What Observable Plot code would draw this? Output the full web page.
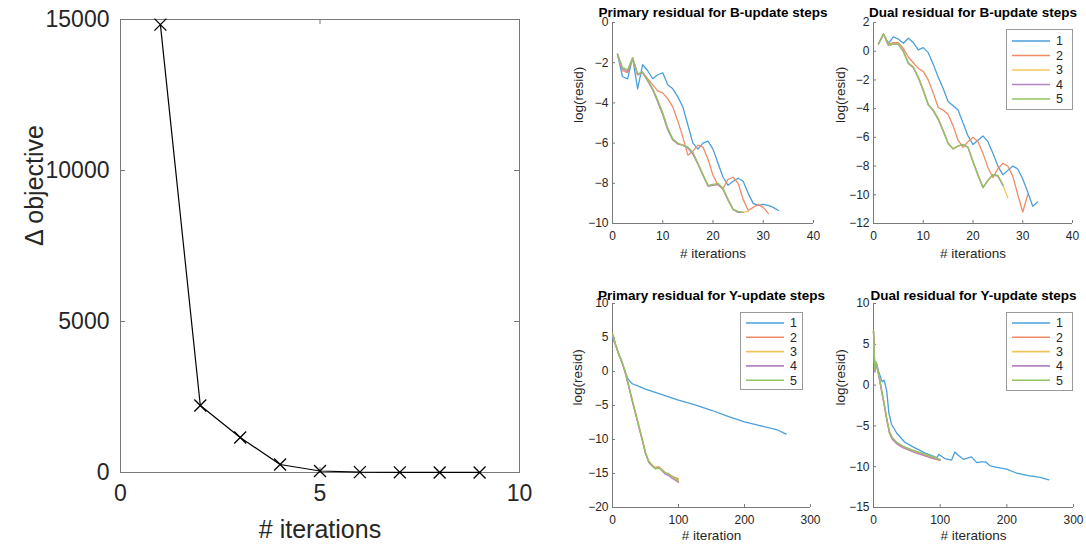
<!DOCTYPE html>
<html><head><meta charset="utf-8">
<script src="https://cdn.jsdelivr.net/npm/d3@7"></script>
<script src="https://cdn.jsdelivr.net/npm/@observablehq/plot@0.6"></script>
<style>
body{margin:0;background:#fff;}
#root{position:relative;width:1086px;height:546px;overflow:hidden;font-family:"Liberation Sans",Arial,sans-serif;}
#root > svg, #root > div{position:absolute;}
</style></head><body><div id="root"></div>
<script>
// ---------- Data ----------
// Left: change in objective per outer iteration
const objIter = [1, 2, 3, 4, 5, 6, 7, 8, 9];
const objDelta = [14830, 2220, 1160, 265, 50, 12, 5, 2, 1];
const objXTicks = [0, 5, 10];
const objYTicks = [0, 5000, 10000, 15000];

const seriesNames = ["1", "2", "3", "4", "5"];
const seriesColors = ["#4a9fdc", "#f08c65", "#f2c75a", "#b484c4", "#92c462"];

// Primary residual for B-update steps (iteration = index + 1)
const pB1 = [-1.6,-2.7,-2.8,-1.75,-3.3,-2.1,-2.4,-2.8,-2.6,-2.5,-3.1,-3.3,-3.7,-4.2,-5.1,-6.0,-6.3,-6.0,-5.9,-6.3,-7.0,-7.7,-8.1,-7.9,-7.75,-7.9,-8.5,-9.0,-9.1,-9.05,-9.1,-9.2,-9.35];
const pB2 = [-1.6,-2.4,-2.5,-1.8,-2.6,-2.5,-2.8,-3.1,-3.4,-3.5,-3.8,-4.2,-4.9,-5.7,-6.6,-6.4,-6.1,-6.2,-6.8,-7.6,-8.1,-8.25,-7.8,-7.7,-8.0,-8.8,-9.35,-9.2,-9.05,-9.2,-9.5];
const pB3 = [-1.6,-2.3,-2.4,-1.75,-2.6,-2.5,-2.9,-3.3,-3.9,-4.5,-5.3,-5.8,-6.05,-6.1,-6.2,-6.5,-7.0,-7.6,-8.1,-8.1,-8.05,-8.3,-8.8,-9.3,-9.45,-9.45,-9.4];
const pB4 = [-1.6,-2.3,-2.45,-1.8,-2.6,-2.5,-2.9,-3.35,-3.95,-4.6,-5.35,-5.85,-6.05,-6.1,-6.25,-6.55,-7.05,-7.6,-8.15,-8.1,-8.05,-8.3,-8.85,-9.3,-9.45,-9.45];
const pB5 = [-1.55,-2.25,-2.35,-1.75,-2.55,-2.45,-2.85,-3.3,-3.85,-4.5,-5.25,-5.8,-6.0,-6.1,-6.2,-6.45,-7.0,-7.55,-8.1,-8.05,-8.0,-8.25,-8.8,-9.3,-9.4,-9.45];

// Dual residual for B-update steps (iteration = index + 1)
const dB1 = [0.5,1.2,0.55,1.0,0.85,0.55,0.9,0.6,0.1,0.25,-0.1,-0.9,-1.8,-2.6,-3.5,-3.8,-4.1,-5.0,-5.9,-6.5,-6.2,-5.9,-6.3,-7.1,-8.0,-8.6,-8.3,-8.0,-8.2,-8.9,-9.8,-10.8,-10.5];
const dB2 = [0.5,1.2,0.5,0.6,0.6,0.2,-0.4,-0.8,-1.2,-1.4,-2.0,-2.9,-3.9,-4.1,-4.4,-5.2,-6.2,-6.7,-6.3,-6.0,-6.3,-7.1,-8.1,-8.8,-8.2,-7.8,-8.0,-8.7,-10.0,-11.2,-10.0];
const dB3 = [0.5,1.2,0.4,0.5,0.5,0.0,-0.8,-1.1,-1.8,-2.7,-3.7,-4.1,-4.7,-5.5,-6.4,-6.8,-6.6,-6.5,-6.7,-7.7,-8.6,-9.5,-9.0,-8.6,-8.7,-9.3,-10.2];
const dB4 = [0.5,1.2,0.4,0.5,0.5,0.0,-0.85,-1.15,-1.85,-2.75,-3.7,-4.15,-4.75,-5.55,-6.4,-6.8,-6.6,-6.5,-6.7,-7.7,-8.6,-9.5,-9.0,-8.6,-8.7,-9.35];
const dB5 = [0.5,1.2,0.45,0.5,0.5,-0.05,-0.8,-1.1,-1.8,-2.7,-3.75,-4.1,-4.7,-5.5,-6.45,-6.8,-6.6,-6.5,-6.7,-7.7,-8.65,-9.5,-9.0,-8.6,-8.65,-9.3];

// Primary residual for Y-update steps
const pY1x = [0,5,10,15,20,23,27,30,40,50,75,100,125,150,175,200,225,250,263];
const pY1 = [5.0,3.8,2.4,1.1,-0.2,-1.0,-1.5,-1.8,-2.2,-2.6,-3.4,-4.2,-4.9,-5.7,-6.6,-7.4,-8.0,-8.6,-9.2];
const pYx = [0,5,10,15,20,25,30,35,40,45,50,55,60,65,70,75,80,85,90,95,100];
const pY2 = [5.5,3.8,2.4,1.2,-0.4,-2.3,-4.3,-6.2,-8.1,-10.0,-12.0,-13.3,-13.8,-14.1,-14.0,-14.4,-14.9,-15.1,-15.4,-15.6,-15.8];
const pY3 = [5.5,3.8,2.4,1.2,-0.4,-2.3,-4.2,-6.1,-8.0,-10.0,-11.9,-13.2,-13.7,-14.2,-14.0,-14.5,-15.0,-15.2,-15.5,-15.9,-16.2];
const pY4 = [5.5,3.8,2.4,1.2,-0.4,-2.4,-4.4,-6.3,-8.2,-10.1,-12.1,-13.4,-13.9,-14.3,-14.1,-14.6,-15.1,-15.3,-15.7,-16.0,-16.3];
const pY5 = [5.6,3.9,2.5,1.3,-0.3,-2.2,-4.2,-6.1,-8.0,-9.9,-11.9,-13.2,-13.8,-14.3,-14.2,-14.5,-14.9,-15.0,-15.4,-15.8,-16.0];

// Dual residual for Y-update steps
const dY1x = [0,2,4,8,13,16,20,23,27,35,47,60,77,95,98,107,117,122,127,135,147,155,162,168,175,187,200,215,232,250,263];
const dY1 = [6.5,2.2,2.8,1.6,0.4,0.6,-0.8,-3.4,-4.8,-5.9,-7.0,-7.6,-8.3,-8.9,-8.5,-9.0,-9.2,-8.2,-8.6,-9.1,-8.8,-9.5,-9.4,-9.4,-9.9,-10.1,-10.3,-10.8,-11.1,-11.3,-11.6];
const dYx = [0,2,4,8,12,16,20,24,28,35,45,60,75,90,100];
const dY2 = [6.7,1.7,2.7,1.2,-0.6,-2.3,-4.2,-5.8,-6.5,-7.1,-7.6,-8.1,-8.5,-8.9,-9.2];
const dY3 = [6.7,1.7,2.7,1.2,-0.6,-2.4,-4.3,-5.9,-6.6,-7.2,-7.7,-8.2,-8.6,-9.0,-9.25];
const dY4 = [6.6,1.6,2.6,1.1,-0.7,-2.4,-4.3,-5.9,-6.6,-7.2,-7.7,-8.2,-8.6,-9.0,-9.2];
const dY5 = [6.7,1.8,2.8,1.3,-0.5,-2.2,-4.1,-5.7,-6.4,-7.0,-7.5,-8.0,-8.4,-8.8,-9.1];

const ticksB_x = [0, 10, 20, 30, 40];
const ticksPB_y = [-10, -8, -6, -4, -2, 0];
const ticksDB_y = [-12, -10, -8, -6, -4, -2, 0, 2];
const ticksY_x = [0, 100, 200, 300];
const ticksPY_y = [-20, -15, -10, -5, 0, 5, 10];
const ticksDY_y = [-15, -10, -5, 0, 5, 10];

// ---------- Helpers ----------
const FONT = '"Liberation Sans", Arial, sans-serif';
const AX = "#7a7a7a";
const TXT = "#262626";
const root = document.getElementById("root");
const fmt = d => d < 0 ? "\u2212" + Math.abs(d) : String(d);

const byIndex = (vals, s) => vals.map((v, i) => ({x: i + 1, y: v, s}));
const byXY = (xs, vals, s) => vals.map((v, i) => ({x: xs[i], y: v, s}));

function place(node, left, top) {
  node.style.left = left + "px";
  node.style.top = top + "px";
  root.appendChild(node);
}

function small(g) {
  const iw = g.width - g.ml - g.mr, ih = g.height - g.mt - g.mb, t = 3;
  const p = Plot.plot({
    width: g.width, height: g.height,
    marginLeft: g.ml, marginRight: g.mr, marginTop: g.mt, marginBottom: g.mb,
    style: {fontFamily: FONT, fontSize: "12px", color: TXT, background: "transparent", overflow: "visible"},
    x: {domain: g.xDomain, ticks: g.xTicks, tickSize: 0, tickPadding: 8, label: null, tickFormat: fmt},
    y: {domain: g.yDomain, ticks: g.yTicks, tickSize: 0, tickPadding: 4, label: null, tickFormat: fmt},
    color: {domain: seriesNames, range: seriesColors},
    marks: [
      Plot.ruleX([g.xDomain[0]], {stroke: AX}),
      Plot.ruleY([g.yDomain[0]], {stroke: AX}),
      Plot.tickX(g.xTicks, {x: d => d, stroke: AX, insetTop: ih - t}),
      Plot.tickY(g.yTicks, {y: d => d, stroke: AX, insetRight: iw - t}),
      Plot.line(g.rows, {x: "x", y: "y", z: "s", stroke: "s", strokeWidth: 1.3}),
      Plot.text([g.title], {text: d => d, frameAnchor: "top", lineAnchor: "middle", dy: g.titleDy, fontWeight: "bold", fontSize: 13.5, fill: "#000"}),
      Plot.text([g.xLabel], {text: d => d, frameAnchor: "bottom", lineAnchor: "middle", dy: g.xLabelDy, fontSize: 13.5, fill: TXT}),
      Plot.text(["log(resid)"], {text: d => d, frameAnchor: "left", lineAnchor: "middle", rotate: -90, dx: g.yLabelDx, fontSize: 13.5, fill: TXT})
    ]
  });
  place(p, g.left, g.top);
}

function legend(left, top, w, h, rowY0, rowGap) {
  const svg = d3.create("svg").attr("width", w).attr("height", h)
    .style("font-family", FONT).style("font-size", "12.5px");
  svg.append("rect").attr("x", 0.5).attr("y", 0.5).attr("width", w - 1).attr("height", h - 1)
    .attr("fill", "#fff").attr("stroke", "#9a9a9a");
  seriesNames.forEach((n, i) => {
    const y = rowY0 + i * rowGap;
    svg.append("line").attr("x1", 6).attr("x2", 44).attr("y1", y).attr("y2", y)
      .attr("stroke", seriesColors[i]).attr("stroke-width", 1.6);
    svg.append("text").attr("x", 50).attr("y", y).attr("dy", "0.35em").attr("fill", TXT).text(n);
  });
  place(svg.node(), left, top);
}

// ---------- Left chart ----------
{
  const W = 560, H = 546, ml = 120, mr = 41, mt = 19, mb = 74;
  const iw = W - ml - mr, ih = H - mt - mb, t = 5;
  const objRows = objIter.map((x, i) => ({x, y: objDelta[i]}));
  const p = Plot.plot({
    width: W, height: H, marginLeft: ml, marginRight: mr, marginTop: mt, marginBottom: mb,
    style: {fontFamily: FONT, fontSize: "23px", color: TXT, background: "transparent", overflow: "visible"},
    x: {domain: [0, 10], ticks: objXTicks, tickSize: 0, tickPadding: 12, label: null, tickFormat: d => String(d)},
    y: {domain: [0, 15000], ticks: objYTicks, tickSize: 0, tickPadding: 11, label: null, tickFormat: d => String(d)},
    marks: [
      Plot.frame({stroke: AX}),
      Plot.tickX(objXTicks, {x: d => d, stroke: AX, insetTop: ih - t}),
      Plot.tickX(objXTicks, {x: d => d, stroke: AX, insetBottom: ih - t}),
      Plot.tickY(objYTicks, {y: d => d, stroke: AX, insetRight: iw - t}),
      Plot.tickY(objYTicks, {y: d => d, stroke: AX, insetLeft: iw - t}),
      Plot.line(objRows, {x: "x", y: "y", stroke: "#000", strokeWidth: 1.2}),
      Plot.dot(objRows, {x: "x", y: "y", symbol: "times", r: 5.5, stroke: "#000", strokeWidth: 1.3}),
      Plot.text(["# iterations"], {text: d => d, frameAnchor: "bottom", lineAnchor: "middle", dy: 57, fontSize: 25, fill: TXT}),
      Plot.text(["\u0394 objective"], {text: d => d, frameAnchor: "left", lineAnchor: "middle", rotate: -90, dx: -86, fontSize: 25, fill: TXT})
    ]
  });
  place(p, 0, 0);
}

// ---------- Right panels ----------
small({
  left: 560, top: 0, width: 270, height: 270, ml: 52, mr: 17, mt: 22, mb: 47,
  xDomain: [0, 40], yDomain: [-10, 0], xTicks: ticksB_x, yTicks: ticksPB_y,
  title: "Primary residual for B-update steps", xLabel: "# iterations",
  titleDy: -10, xLabelDy: 30, yLabelDx: -34,
  rows: [...byIndex(pB1, "1"), ...byIndex(pB2, "2"), ...byIndex(pB3, "3"), ...byIndex(pB4, "4"), ...byIndex(pB5, "5")]
});
small({
  left: 830, top: 0, width: 256, height: 270, ml: 43, mr: 14, mt: 22, mb: 47,
  xDomain: [0, 40], yDomain: [-12, 2], xTicks: ticksB_x, yTicks: ticksDB_y,
  title: "Dual residual for B-update steps", xLabel: "# iterations",
  titleDy: -10, xLabelDy: 30, yLabelDx: -33,
  rows: [...byIndex(dB1, "1"), ...byIndex(dB2, "2"), ...byIndex(dB3, "3"), ...byIndex(dB4, "4"), ...byIndex(dB5, "5")]
});
small({
  left: 560, top: 270, width: 270, height: 276, ml: 52, mr: 20, mt: 33, mb: 39,
  xDomain: [0, 300], yDomain: [-20, 10], xTicks: ticksY_x, yTicks: ticksPY_y,
  title: "Primary residual for Y-update steps", xLabel: "# iteration",
  titleDy: -8, xLabelDy: 28, yLabelDx: -35,
  rows: [...byXY(pY1x, pY1, "1"), ...byXY(pYx, pY2, "2"), ...byXY(pYx, pY3, "3"), ...byXY(pYx, pY4, "4"), ...byXY(pYx, pY5, "5")]
});
small({
  left: 830, top: 270, width: 256, height: 276, ml: 43, mr: 13, mt: 33, mb: 39,
  xDomain: [0, 300], yDomain: [-15, 10], xTicks: ticksY_x, yTicks: ticksDY_y,
  title: "Dual residual for Y-update steps", xLabel: "# iterations",
  titleDy: -8, xLabelDy: 28, yLabelDx: -33,
  rows: [...byXY(dY1x, dY1, "1"), ...byXY(dYx, dY2, "2"), ...byXY(dYx, dY3, "3"), ...byXY(dYx, dY4, "4"), ...byXY(dYx, dY5, "5")]
});

legend(1006, 29, 67, 81, 12, 14.5);
legend(740, 312, 63, 78, 11, 14.3);
legend(1006, 312, 67, 79, 11, 14.3);
</script></body></html>
